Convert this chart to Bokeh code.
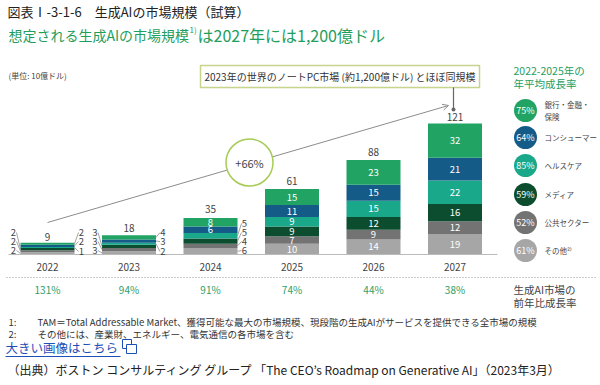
from bokeh.plotting import figure
from bokeh.models import Range1d, ColumnDataSource, Arrow, OpenHead
from bokeh.core.properties import value
from bokeh.embed import file_html
from bokeh.resources import INLINE

# ---------------- data ----------------
years = ["2022", "2023", "2024", "2025", "2026", "2027"]
totals = [9, 18, 35, 61, 88, 121]
banking = [2, 4, 8, 15, 23, 32]
consumer = [2, 3, 6, 11, 15, 21]
healthcare = [1, 2, 5, 9, 15, 22]
media = [2, 3, 5, 9, 12, 16]
public = [2, 3, 4, 7, 9, 12]
other = [2, 3, 6, 10, 14, 19]
yoy_growth = ["131%", "94%", "91%", "74%", "44%", "38%"]
segment_names = ["銀行・金融・\n保険", "コンシューマー", "ヘルスケア", "メディア", "公共セクター", "その他²⁾"]
cagr = ["75%", "64%", "85%", "59%", "52%", "61%"]
cagr_total = "+66%"

# ---------------- layout helpers (page pixels -> data) ----------------
JP = "Noto Sans CJK JP"
W, H = 600, 385
BASE = 254.0      # page y of the zero line
PXU = 1.074       # pixels per unit
X0, DX = 47.0, 81.5
BARW = 54.0


def X(px):
    return (px - X0) / DX


def Y(py):
    return (BASE - py) / PXU


p = figure(width=W, height=H, output_backend="svg", toolbar_location=None,
           x_range=Range1d(X(0), X(W)), y_range=Range1d(Y(H), Y(0)),
           x_axis_type=None, y_axis_type=None, min_border=0)
p.grid.visible = False
p.outline_line_color = None
p.background_fill_color = "white"


def txt(px, py, s, size, color="#333333", align="left", style="normal", font=JP):
    p.text(x=[X(px)], y=[Y(py)], text=[s], text_font=value(font),
           text_font_size=f"{size}px", text_color=color, text_align=align,
           text_baseline="middle", text_font_style=style)


# ---------------- trend arrow (under everything) ----------------
p.add_layout(Arrow(end=OpenHead(size=6, line_color="#8c8c8c", line_width=1),
                   x_start=X(47), y_start=Y(222), x_end=X(448), y_end=Y(105),
                   line_color="#8c8c8c", line_width=1, level="underlay"))

# ---------------- stacked bars ----------------
stack_keys = ["other", "public", "media", "healthcare", "consumer", "banking"]
stack_vals = [other, public, media, healthcare, consumer, banking]
colors = ["#a6a6a6", "#737373", "#0b4d2e", "#1aa88b", "#155b87", "#21a463"]
src = ColumnDataSource(dict(x=list(range(len(years))), other=other, public=public,
                            media=media, healthcare=healthcare, consumer=consumer,
                            banking=banking))
p.vbar_stack(stack_keys, x="x", width=BARW / DX, color=colors, line_color=None, source=src)

# baseline
p.segment(x0=[X(8)], y0=[0], x1=[X(497)], y1=[0], line_color="#bbbbbb", line_width=1)

# segment centres
centres = []
for i in range(len(years)):
    cum = 0
    c = []
    for vals in stack_vals:
        c.append(cum + vals[i] / 2)
        cum += vals[i]
    centres.append(c)

# inside labels
ix, iy, it = [], [], []
for i in range(len(years)):
    for k, vals in enumerate(stack_vals):
        if i >= 3 or (i == 2 and k >= 4):
            ix.append(i)
            iy.append(centres[i][k])
            it.append(str(vals[i]))
p.text(x=ix, y=iy, text=it, text_font=value(JP), text_font_size="9.5px",
       text_color="white", text_align="center", text_baseline="middle")

# side labels with leader lines (small bars)
side_spec = {
    0: [(5, "R", 232), (4, "R", 241), (3, "R", 251), (2, "L", 232), (1, "L", 241), (0, "L", 250)],
    1: [(5, "R", 232), (4, "R", 241), (3, "R", 251), (2, "L", 232), (1, "L", 241), (0, "L", 250)],
    2: [(3, "R", 223), (2, "R", 232), (1, "R", 241), (0, "R", 250)],
}
sx, sy, st = [], [], []
lx0, ly0, lx1, ly1 = [], [], [], []
for i, specs in side_spec.items():
    cx = X0 + i * DX
    for k, side, ly in specs:
        if side == "L":
            edge = cx - BARW / 2
            lab_x = edge - 7
            lx0.append(X(lab_x + 3)); lx1.append(X(edge))
        else:
            edge = cx + BARW / 2
            lab_x = edge + 7
            lx0.append(X(lab_x - 3)); lx1.append(X(edge))
        ly0.append(Y(ly)); ly1.append(centres[i][k])
        sx.append(X(lab_x)); sy.append(Y(ly)); st.append(str(stack_vals[k][i]))
p.segment(x0=lx0, y0=ly0, x1=lx1, y1=ly1, line_color="#8c8c8c", line_width=0.8)
p.text(x=sx, y=sy, text=st, text_font=value(JP), text_font_size="9.5px",
       text_color="#444444", text_align="center", text_baseline="middle")

# totals
p.text(x=list(range(len(years))), y=[t + 7 for t in totals], text=[str(t) for t in totals],
       text_font=value(JP), text_font_size="10px", text_color="#444444",
       text_align="center", text_baseline="middle")

# year labels
p.text(x=list(range(len(years))), y=[Y(266)] * len(years), text=years,
       text_font=value(JP), text_font_size="10px", text_color="#444444",
       text_align="center", text_baseline="middle")

# dotted separator
p.segment(x0=[X(6)], y0=[Y(277)], x1=[X(595)], y1=[Y(277)], line_color="#999999",
          line_width=1, line_dash="1 2")

# yoy growth
p.text(x=list(range(len(years))), y=[Y(289)] * len(years), text=yoy_growth,
       text_font=value(JP), text_font_size="10px", text_color="#2e9e66",
       text_align="center", text_baseline="middle")
txt(513, 289, "生成AI市場の", 10.5, "#444444")
txt(513, 302, "前年比成長率", 10.5, "#444444")

# ---------------- CAGR circle ----------------
p.scatter(x=[X(249)], y=[Y(162)], size=47, marker="circle", fill_color="white",
          line_color="#a6cc55", line_width=1.5)
txt(249, 162, cagr_total, 11, "#444444", align="center")

# callout box
p.quad(left=[X(200)], right=[X(479)], top=[Y(65)], bottom=[Y(87)], fill_color="white",
       line_color="#c6d48c", line_width=1.5)
txt(339.5, 76, "2023年の世界のノートPC市場 (約1,200億ドル) とほぼ同規模", 10, "#333333", align="center")
p.segment(x0=[X(453)], y0=[Y(87)], x1=[X(453)], y1=[Y(109)], line_color="#666666", line_width=1.2)
p.scatter(x=[X(453)], y=[Y(109)], size=4, marker="circle", fill_color="#666666", line_color=None)

# ---------------- titles ----------------
txt(7, 11, "図表Ⅰ-3-1-6　生成AIの市場規模（試算）", 13, "#222222")
txt(8, 34, "想定される生成AIの市場規模", 14, "#1f9e5e")
txt(189, 29, "1)", 8, "#1f9e5e")
txt(197, 34, "は2027年には1,200億ドル", 16, "#1f9e5e")
txt(8, 75, "(単位: 10億ドル)", 8, "#444444")

# ---------------- legend ----------------
txt(513, 70, "2022-2025年の", 10.5, "#1f9e5e")
txt(513, 83, "年平均成長率", 10.5, "#1f9e5e")
leg_y = [110, 137, 165, 194, 222, 250]
leg_colors = colors[::-1]
p.scatter(x=[X(525)] * 6, y=[Y(v) for v in leg_y], size=23, marker="circle",
          fill_color=leg_colors, line_color=None)
p.text(x=[X(525)] * 6, y=[Y(v) for v in leg_y], text=cagr, text_font=value(JP),
       text_font_size="9px", text_color="white", text_align="center", text_baseline="middle")
for name, ly in zip(segment_names, leg_y):
    lines = name.split("\n")
    if len(lines) == 2:
        txt(544, ly - 6, lines[0], 7.5, "#444444")
        txt(544, ly + 6, lines[1], 7.5, "#444444")
    else:
        txt(544, ly, lines[0], 7.5, "#444444")

# ---------------- footnotes ----------------
txt(8, 321, "1:", 9.5, "#333333")
txt(37, 321, "TAM＝Total Addressable Market、獲得可能な最大の市場規模、現段階の生成AIがサービスを提供できる全市場の規模", 9.5, "#333333")
txt(8, 333, "2:", 9.5, "#333333")
txt(37, 333, "その他には、産業財、エネルギー、電気通信の各市場を含む", 9.5, "#333333")
txt(5, 347, "大きい画像はこちら", 12.5, "#1d4fb8")
p.segment(x0=[X(5)], y0=[Y(356)], x1=[X(120)], y1=[Y(356)], line_color="#1d4fb8", line_width=1)
p.quad(left=[X(122)], right=[X(131)], top=[Y(339)], bottom=[Y(348)], fill_color=None,
       line_color="#1d4fb8", line_width=1)
p.quad(left=[X(126)], right=[X(136)], top=[Y(344)], bottom=[Y(353)], fill_color="white",
       line_color="#1d4fb8", line_width=1)
txt(7, 369, "（出典）ボストン コンサルティング グループ 「The CEO’s Roadmap on Generative AI」（2023年3月）", 12, "#222222")

open("out.html", "w").write(file_html(p, INLINE))
